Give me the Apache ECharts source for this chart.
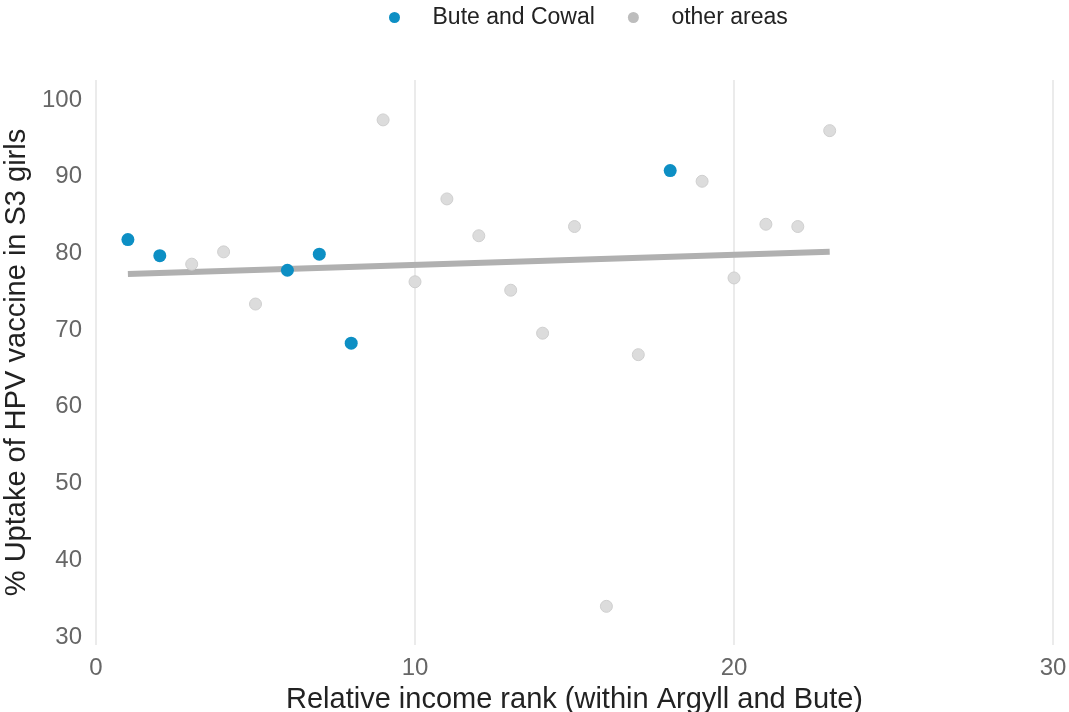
<!DOCTYPE html>
<html>
<head>
<meta charset="utf-8">
<script src="https://cdn.jsdelivr.net/npm/echarts@6/dist/echarts.min.js"></script>
<style>
  html, body { margin: 0; padding: 0; background: #fff; }
  #mainBox { width: 1069px; height: 712px; }
</style>
</head>
<body>
<div id="mainBox"></div>
<script>
// data
var buteX = [1, 2, 6, 7, 8, 18];
var buteY = [81.8, 79.7, 77.8, 79.9, 68.3, 90.8];
var otherX = [3, 4, 5, 9, 10, 11, 12, 13, 14, 15, 16, 17, 19, 20, 21, 22, 23];
var otherY = [78.6, 80.2, 73.4, 97.4, 76.3, 87.1, 82.3, 75.2, 69.6, 83.5, 34.0, 66.8, 89.4, 76.8, 83.8, 83.5, 96.0];
var trendX = [1, 23];
var trendY = [77.3, 80.2];
var yTicks = [30, 40, 50, 60, 70, 80, 90, 100];

function pairs(xs, ys) {
  return xs.map(function (x, i) { return [x, ys[i]]; });
}

var myChart = echarts.init(document.getElementById('mainBox'));
var font = 'Liberation Sans, Arial, sans-serif';

var option = {
  animation: false,
  textStyle: { fontFamily: font },
  legend: {
    top: 1,
    left: 384,
    itemWidth: 22,
    itemHeight: 11,
    itemGap: 33,
    icon: 'circle',
    textStyle: { fontSize: 23, color: '#222', padding: [0, 0, 0, 22], fontFamily: font },
    data: []
  },
  grid: { left: 96, right: 16, top: 80, bottom: 67, outerBoundsMode: 'none' },
  xAxis: {
    type: 'value',
    min: 0, max: 30, interval: 10,
    name: 'Relative income rank (within Argyll and Bute)',
    nameLocation: 'middle',
    nameGap: 40,
    nameTextStyle: { fontSize: 29, color: '#222', fontFamily: font },
    axisLine: { show: false },
    axisTick: { show: false },
    axisLabel: { fontSize: 24, color: '#666', margin: 11, fontFamily: font },
    splitLine: { show: true, lineStyle: { color: '#ebebeb', width: 2 } }
  },
  yAxis: {
    type: 'value',
    min: 28.96, max: 102.6,
    name: '% Uptake of HPV vaccine in S3 girls',
    nameLocation: 'middle',
    nameGap: 48,
    nameTextStyle: { fontSize: 29, color: '#222', fontFamily: font },
    axisLine: { show: false },
    axisTick: { show: false },
    axisLabel: { fontSize: 24, color: '#666', margin: 14, customValues: yTicks, fontFamily: font },
    splitLine: { show: false }
  },
  series: [
    {
      name: 'trend',
      type: 'line',
      data: pairs(trendX, trendY),
      symbol: 'none',
      lineStyle: { color: '#b0b0b0', width: 6 },
      z: 1,
      silent: true
    },
    {
      name: 'other areas',
      type: 'scatter',
      data: pairs(otherX, otherY),
      symbolSize: 12,
      itemStyle: { color: '#dcdcdc', borderColor: '#cfcfcf', borderWidth: 1, opacity: 1 },
      z: 2
    },
    {
      name: 'Bute and Cowal',
      type: 'scatter',
      data: pairs(buteX, buteY),
      symbolSize: 13,
      itemStyle: { color: '#0d8fc4', opacity: 1 },
      z: 3
    }
  ]
};
option.legend.data = [
  { name: 'Bute and Cowal', itemStyle: { color: '#0d8fc4', opacity: 1 } },
  { name: 'other areas', itemStyle: { color: '#bdbdbd', opacity: 1, borderWidth: 0 } }
];

myChart.setOption(option);
</script>
</body>
</html>
